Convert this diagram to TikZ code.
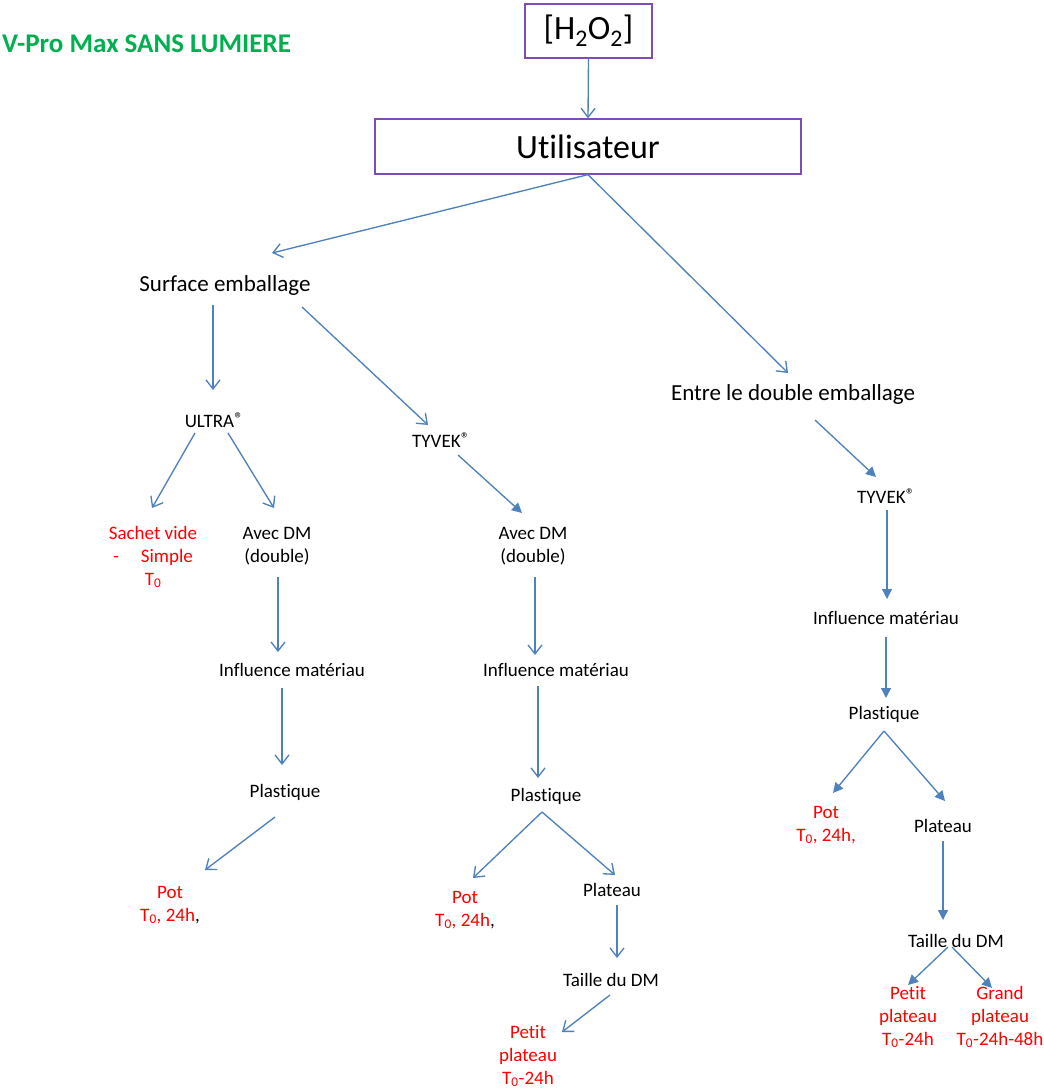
\documentclass[tikz,border=0pt]{standalone}
\usepackage{fontspec}
\setmainfont{Carlito}[RawFeature={-liga;-calt;-dlig;-clig}]
\usetikzlibrary{arrows.meta,calc}
\definecolor{arr}{HTML}{4F81BD}
\definecolor{boxc}{HTML}{7E4BB8}
\definecolor{ttl}{HTML}{00B050}
\definecolor{rd}{HTML}{FF0000}
\newcommand{\reg}{\kern0.5pt\raisebox{3pt}{\fontsize{17}{17}\selectfont ®}}
\tikzset{
  lbl/.style={inner sep=0pt, align=center, font=\fontsize{19}{23}\selectfont},
  big/.style={inner sep=0pt, align=center, font=\fontsize{23}{27}\selectfont},
  rtxt/.style={lbl, text=rd},
  pbox/.style={draw=boxc, line width=1.3pt, inner sep=0pt, font=\fontsize{34}{38}\selectfont},
  oa/.style={draw=arr, line width=1.35pt, -{Straight Barb[length=9pt,width=14pt]}},
  fa/.style={draw=arr, line width=1.35pt, -{Triangle[length=10pt,width=10pt]}}
}
\begin{document}
\begin{tikzpicture}[x=1pt,y=-1pt]
\useasboundingbox (0,0) rectangle (1043,1091);
% title
\node[anchor=west, inner sep=0pt, text=ttl, font=\fontsize{27}{30}\selectfont\bfseries] (title) at (2,44) {V-Pro Max SANS LUMIERE};
% boxes
\node[pbox, minimum width=127pt, minimum height=54pt] (h2o2) at (588.5,31) {[H\textsubscript{2}O\textsubscript{2}]};
\node[pbox, minimum width=426pt, minimum height=55pt] (util) at (588,146.5) {Utilisateur};
% second level
\node[big] (surf) at (225,285) {Surface emballage};
\node[big] (entre) at (793,394) {Entre le double emballage};
% left branch
\node[lbl] (ultra) at (214,420) {ULTRA\reg};
\node[rtxt] (sachet) at (153,557) {Sachet vide\\-\hspace{22pt}Simple\\T\textsubscript{0}};
\node[lbl] (avec1) at (277,546) {Avec DM\\(double)};
\node[lbl] (infl1) at (292,670) {Influence matériau};
\node[lbl] (plast1) at (285,792) {Plastique};
\node[rtxt] (pot1) at (170,905) {Pot\\T\textsubscript{0}, 24h\textcolor{black}{,}};
% middle branch
\node[lbl] (tyv1) at (441,440) {TYVEK\reg};
\node[lbl] (avec2) at (533,546) {Avec DM\\(double)};
\node[lbl] (infl2) at (556,670) {Influence matériau};
\node[lbl] (plast2) at (546,796) {Plastique};
\node[rtxt] (pot2) at (465,910) {Pot\\T\textsubscript{0}, 24h\textcolor{black}{,}};
\node[lbl] (plat2) at (612,890) {Plateau};
\node[lbl] (taille2) at (611,980) {Taille du DM};
\node[rtxt] (petit2) at (528,1056) {Petit\\plateau\\T\textsubscript{0}-24h};
% right branch
\node[lbl] (tyv3) at (886,496) {TYVEK\reg};
\node[lbl] (infl3) at (886,618) {Influence matériau};
\node[lbl] (plast3) at (884,714) {Plastique};
\node[rtxt] (pot3) at (826,825) {Pot\\T\textsubscript{0}, 24h,};
\node[lbl] (plat3) at (943,826) {Plateau};
\node[lbl] (taille3) at (956,941) {Taille du DM};
\node[rtxt] (petit3) at (908,1017) {Petit\\plateau\\T\textsubscript{0}-24h};
\node[rtxt] (grand3) at (1000,1017) {Grand\\plateau\\T\textsubscript{0}-24h-48h};
% connectors
\draw[oa] (h2o2.south) -- (util.north);
\draw[oa] (util.south) -- ($(surf)+(47,-32)$);
\draw[oa] (util.south) -- ($(entre)+(-5,-21)$);
\draw[oa] ($(surf)+(-12,20)$) -- ($(ultra)+(-1,-30)$);
\draw[oa] ($(surf)+(77,22)$) -- ($(tyv1)+(-13,-15)$);
\draw[oa] ($(ultra)+(-19,13)$) -- ($(sachet)+(-1,-49)$);
\draw[oa] ($(ultra)+(14,13)$) -- ($(avec1)+(-3,-38)$);
\draw[oa] ($(avec1)+(1,31)$) -- ($(infl1)+(-14,-18)$);
\draw[oa] ($(infl1)+(-10,18)$) -- ($(plast1)+(-3,-27)$);
\draw[oa] ($(plast1)+(-10,25)$) -- ($(pot1)+(35,-35)$);
\draw[fa] ($(tyv1)+(17,15)$) -- ($(avec2)+(-11,-33)$);
\draw[oa] ($(avec2)+(2,31)$) -- ($(infl2)+(-21,-15)$);
\draw[oa] ($(infl2)+(-18,16)$) -- ($(plast2)+(-8,-18)$);
\draw[oa] ($(plast2)+(-4,16)$) -- ($(pot2)+(8,-32)$);
\draw[oa] ($(plast2)+(-4,16)$) -- ($(plat2)+(3,-15)$);
\draw[oa] ($(plat2)+(5,15)$) -- ($(taille2)+(6,-22)$);
\draw[oa] ($(taille2)+(-1,15)$) -- ($(petit2)+(34,-24)$);
\draw[fa] ($(entre)+(22,26)$) -- ($(tyv3)+(-10,-19)$);
\draw[fa] ($(tyv3)+(1,14)$) -- ($(infl3)+(1,-19)$);
\draw[fa] ($(infl3)+(0,19)$) -- ($(plast3)+(2,-16)$);
\draw[fa] ($(plast3)+(0,17)$) -- ($(pot3)+(7,-32)$);
\draw[fa] ($(plast3)+(0,17)$) -- ($(plat3)+(2,-25)$);
\draw[fa] ($(plat3)+(0,15)$) -- ($(taille3)+(-13,-21)$);
\draw[fa] ($(taille3)+(-8,6)$) -- ($(petit3)+(0,-32)$);
\draw[fa] ($(taille3)+(-4,6)$) -- ($(grand3)+(-8,-29)$);
\end{tikzpicture}
\end{document}
